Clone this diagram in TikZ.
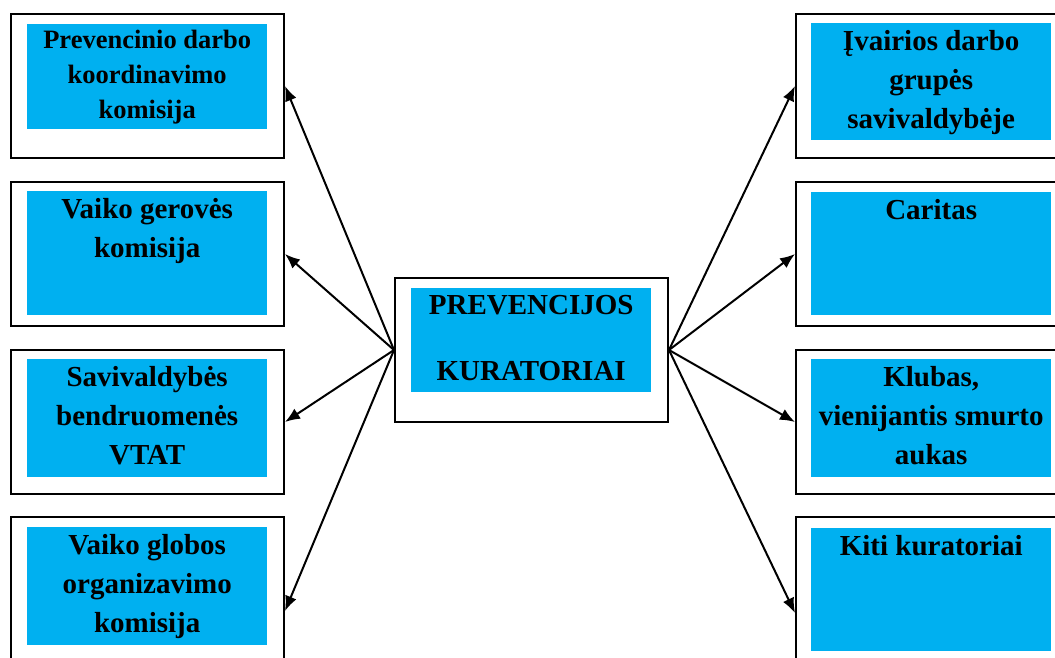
\documentclass[tikz,border=0pt]{standalone}
\usepackage{fontspec}
\setmainfont{Liberation Serif}
\usetikzlibrary{arrows.meta}
\definecolor{panelblue}{HTML}{00B0F0}
\tikzstyle{frame}=[rectangle, draw=black, line width=2pt, fill=white, minimum width=273pt, inner sep=0pt, anchor=north west]
\tikzstyle{panel}=[rectangle, fill=panelblue, inner sep=0pt, anchor=north west, font=\fontsize{29}{39}\selectfont\bfseries]
\tikzstyle{link}=[line width=2pt, -{Latex[length=15pt,width=12pt]}]

\begin{document}
\begin{tikzpicture}[x=1pt,y=-1pt]
	\useasboundingbox (0,0) rectangle (1055,657);

	% left column
	\node[frame, minimum height=144pt](l1) at (10,13){};
	\node[panel, font=\fontsize{26.5}{35}\selectfont\bfseries](l1blue) at (27,24){\parbox[t][105pt][t]{240pt}{\centering\strut Prevencinio darbo\\ koordinavimo\\ komisija}};
	\node[frame, minimum height=144pt](l2) at (10,181){};
	\node[panel](l2blue) at (27,191){\parbox[t][124pt][t]{240pt}{\centering\strut Vaiko gerovės\\ komisija}};
	\node[frame, minimum height=144pt](l3) at (10,349){};
	\node[panel](l3blue) at (27,359){\parbox[t][118pt][t]{240pt}{\centering\strut Savivaldybės\\ bendruomenės\\ VTAT}};
	\node[frame, minimum height=188pt](l4) at (10,516){};
	\node[panel](l4blue) at (27,527){\parbox[t][118pt][t]{240pt}{\centering\strut Vaiko globos\\ organizavimo\\ komisija}};

	% right column
	\node[frame, minimum height=144pt](r1) at (795,13){};
	\node[panel](r1blue) at (811,23){\parbox[t][117pt][t]{240pt}{\centering\strut Įvairios darbo\\ grupės\\ savivaldybėje}};
	\node[frame, minimum height=144pt](r2) at (795,181){};
	\node[panel](r2blue) at (811,192){\parbox[t][123pt][t]{240pt}{\centering\strut Caritas}};
	\node[frame, minimum height=144pt](r3) at (795,349){};
	\node[panel](r3blue) at (811,359){\parbox[t][118pt][t]{240pt}{\centering\strut Klubas,\\ vienijantis smurto\\ aukas}};
	\node[frame, minimum height=192pt](r4) at (795,516){};
	\node[panel](r4blue) at (811,528){\parbox[t][123pt][t]{240pt}{\centering\strut Kiti kuratoriai}};

	% centre
	\node[frame, minimum height=144pt](centre) at (394,277){};
	\node[panel, font=\fontsize{29}{37}\selectfont\bfseries](centreblue) at (411,288){\parbox[t][104pt][t]{240pt}{\centering\strut PREVENCIJOS\\[29pt] KURATORIAI}};

	\foreach \n in {l1,l2,l3,l4}
		\draw[link] (centre.west) -- (\n.east);
	\foreach \n in {r1,r2,r3,r4}
		\draw[link] (centre.east) -- (\n.west);
\end{tikzpicture}
\end{document}
